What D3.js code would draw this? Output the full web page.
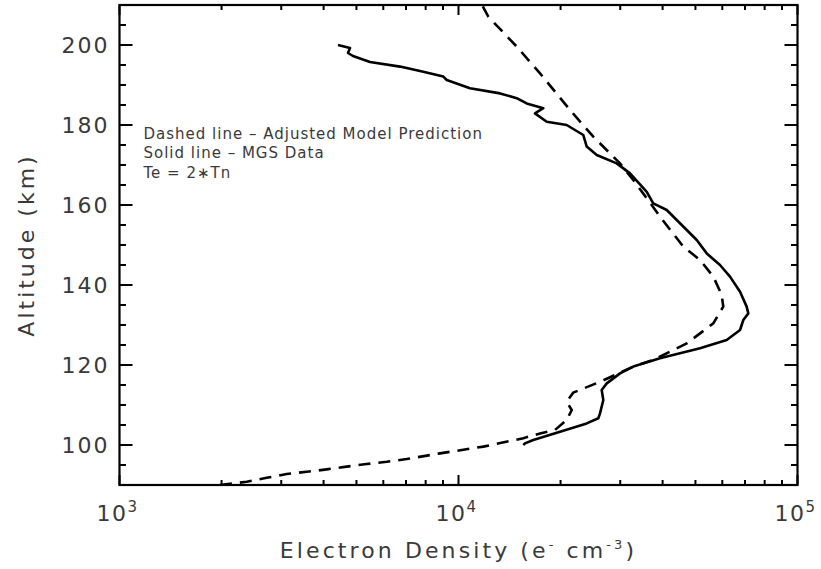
<!DOCTYPE html>
<html>
<head>
<meta charset="utf-8">
<script src="https://cdn.jsdelivr.net/npm/d3@7"></script>
<style>
  body { margin: 0; background: #fff; }
  text { font-family: "DejaVu Sans", sans-serif; fill: #3a3a3a; }
</style>
</head>
<body>
<div id="chart"></div>
<script>
//// model profile (dashed) - altitude km / electron density
const modelAlt = [90, 90.8, 91.8, 92.75, 93.3, 93.9, 94.6, 95.25, 95.8, 96.5, 97.9, 99.6, 101.7, 102.9, 103.75,
  106.25, 108.75, 110.8, 113.1, 115.8, 119.6, 121.25, 125.4, 130.4, 134.6, 137.5, 142.1, 146.25, 149.6,
  157.1, 161.25, 166.25, 170.4, 177.1, 183.75, 192.9, 199.6, 207.1, 210];
const modelNe = [1979, 2373, 2718, 3113, 3566, 4084, 4679, 5360, 6140, 7034, 8820, 11840, 15530, 17400, 19260,
  20850, 21580, 20850, 21810, 26150, 32780, 37540, 47130, 56440, 60400, 59760, 56440, 51580, 46040,
  39290, 36230, 32780, 29950, 24980, 21330, 17400, 14850, 12240, 11730];

//// MGS data (solid)
const mgsAlt = [100, 100.4, 101.25, 103.3, 105.4, 106.7, 107.9, 111.25, 113.75, 115.4, 117.9, 119.6, 121.7,
  124.2, 126.25, 128.75, 131.25, 132.9, 134.6, 138.3, 142.1, 145, 147.9, 151.25, 153.75, 156.25, 158.75,
  160.4, 163.3, 167.9, 170.4, 172.5, 174.6, 177.5, 180, 180.8, 182.9, 184.2, 185.4, 186.7, 187.9, 189.2,
  191.25, 192.1, 193.3, 194.6, 195.75, 197.25, 198, 199.25, 200];
const mgsNe = [15530, 15710, 16620, 19930, 23890, 25850, 26150, 26740, 26450, 27370, 29950, 32780, 39290,
  51580, 61820, 67690, 69210, 71590, 70800, 67690, 63220, 59070, 53990, 50430, 47130, 44020, 41140,
  37540, 35920, 32060, 29290, 25570, 23890, 23340, 20850, 18210, 16810, 17790, 15890, 14850, 13262, 10813,
  9231, 9020, 7874, 6722, 5483, 4884, 4721, 4786, 4411];

const yMajor = [100, 120, 140, 160, 180, 200];
const xMajor = [1e3, 1e4, 1e5];
const xExp = ["3", "4", "5"];
const notes = ["Dashed line \u2013 Adjusted Model Prediction", "Solid line \u2013 MGS Data", "Te = 2\u2217Tn"];

var margin = {top: 5, right: 23.5, bottom: 84, left: 119.5};
var width = 821 - margin.left - margin.right;
var height = 569 - margin.top - margin.bottom;

var svg = d3.select("#chart").append("svg")
    .attr("width", 821)
    .attr("height", 569);

var g = svg.append("g")
    .attr("transform", "translate(" + margin.left + "," + margin.top + ")");

var x = d3.scaleLog().domain([1e3, 1e5]).range([0, width]);
var y = d3.scaleLinear().domain([90, 210]).range([height, 0]);

svg.append("clipPath").attr("id", "clip")
  .append("rect").attr("width", width).attr("height", height);

//// minor ticks
var yMinor = d3.range(90, 211, 5).filter(v => v % 20 != 0);
var xMinor = [];
[1e3, 1e4].forEach(dec => { for (let k = 2; k <= 9; k++) xMinor.push(dec * k); });

var ticks = g.append("g").attr("stroke", "#000").attr("stroke-width", 2);

yMajor.forEach(v => {
  ticks.append("line").attr("x1", 0).attr("x2", 13).attr("y1", y(v)).attr("y2", y(v));
  ticks.append("line").attr("x1", width).attr("x2", width - 13).attr("y1", y(v)).attr("y2", y(v));
});
yMinor.forEach(v => {
  ticks.append("line").attr("x1", 0).attr("x2", 6.5).attr("y1", y(v)).attr("y2", y(v));
  ticks.append("line").attr("x1", width).attr("x2", width - 6.5).attr("y1", y(v)).attr("y2", y(v));
});
xMajor.forEach(v => {
  ticks.append("line").attr("x1", x(v)).attr("x2", x(v)).attr("y1", height).attr("y2", height - 10);
  ticks.append("line").attr("x1", x(v)).attr("x2", x(v)).attr("y1", 0).attr("y2", 10);
});
xMinor.forEach(v => {
  ticks.append("line").attr("x1", x(v)).attr("x2", x(v)).attr("y1", height).attr("y2", height - 5);
  ticks.append("line").attr("x1", x(v)).attr("x2", x(v)).attr("y1", 0).attr("y2", 5);
});

//// frame
g.append("rect")
    .attr("width", width).attr("height", height)
    .attr("fill", "none").attr("stroke", "#000").attr("stroke-width", 2.2);

//// y tick labels
g.selectAll(".ylab").data(yMajor).enter().append("text")
    .attr("class", "ylab")
    .attr("x", -10).attr("y", d => y(d) + 8)
    .attr("text-anchor", "end")
    .style("font-size", "22px").style("letter-spacing", "2px")
    .text(d => d);

//// x tick labels 10^n
var xl = g.selectAll(".xlab").data(xMajor).enter().append("text")
    .attr("class", "xlab")
    .attr("x", d => x(d) - 2).attr("y", height + 36)
    .attr("text-anchor", "middle")
    .style("font-size", "22px").style("letter-spacing", "1.5px");
xl.append("tspan").text("10");
xl.append("tspan").attr("dy", -9).style("font-size", "15px").text((d, i) => xExp[i]);

//// axis titles
var xt = g.append("text")
    .attr("x", width / 2).attr("y", height + 73)
    .attr("text-anchor", "middle")
    .style("font-size", "22px").style("letter-spacing", "3.1px");
xt.append("tspan").text("Electron Density (e");
xt.append("tspan").attr("dy", -9).style("font-size", "13px").text("-");
xt.append("tspan").attr("dy", 9).text(" cm");
xt.append("tspan").attr("dy", -9).style("font-size", "13px").text("-3");
xt.append("tspan").attr("dy", 9).text(")");

g.append("text")
    .attr("transform", "translate(" + (-86) + "," + (height / 2) + ") rotate(-90)")
    .attr("text-anchor", "middle")
    .style("font-size", "22px").style("letter-spacing", "3px")
    .text("Altitude (km)");

//// annotation text
g.selectAll(".note").data(notes).enter().append("text")
    .attr("class", "note")
    .attr("x", 24).attr("y", (d, i) => 133.5 + i * 19.5)
    .style("font-size", "15px").style("letter-spacing", "1px")
    .text(d => d);

//// profiles
var line = d3.line().x(d => x(d[1])).y(d => y(d[0]));
var plot = g.append("g").attr("clip-path", "url(#clip)");

plot.append("path")
    .datum(d3.zip(modelAlt, modelNe))
    .attr("d", line)
    .attr("fill", "none").attr("stroke", "#000")
    .attr("stroke-width", 2.6)
    .attr("stroke-dasharray", "12,8");

plot.append("path")
    .datum(d3.zip(mgsAlt, mgsNe))
    .attr("d", line)
    .attr("fill", "none").attr("stroke", "#000")
    .attr("stroke-width", 2.6)
    .attr("stroke-linejoin", "round");
</script>
</body>
</html>
